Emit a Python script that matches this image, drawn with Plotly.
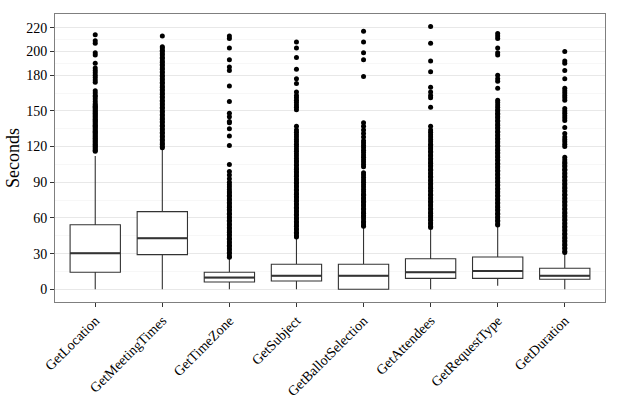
import plotly.graph_objects as go

categories = ["GetLocation", "GetMeetingTimes", "GetTimeZone", "GetSubject",
              "GetBallotSelection", "GetAttendees", "GetRequestType", "GetDuration"]

q1 = [14.3, 29.1, 6.1, 7.0, 0.0, 9.2, 9.2, 8.4]
median = [30.3, 42.9, 9.8, 11.4, 11.4, 14.3, 15.4, 11.4]
q3 = [54.3, 65.3, 14.3, 21.0, 21.0, 25.7, 27.2, 17.7]
lower_whisker = [0.0, 0.0, 0.0, 0.0, 0.0, 0.0, 3.0, 0.0]
upper_whisker = [112.0, 117.7, 25.7, 42.3, 51.8, 49.9, 52.7, 30.8]

out_location = [116, 117, 118, 119, 120, 121, 122, 123, 124, 125, 126, 127, 128, 129, 130,
                131, 132, 133, 134, 135, 136, 137, 138, 139, 140, 141, 142, 143, 144, 145,
                146, 147, 148, 149, 150, 151, 152, 153, 154, 155, 156, 158, 160, 162, 163,
                165, 167, 174, 176, 178, 180, 182, 184, 186, 190, 197, 199, 207, 209, 214]
out_meeting = [119, 120, 122, 123, 125, 126, 128, 129, 131, 132, 134, 135, 137, 138, 140,
               141, 143, 144, 146, 147, 149, 150, 152, 153, 155, 156, 158, 159, 161, 162,
               164, 165, 167, 168, 170, 171, 173, 174, 176, 177, 179, 180, 182, 183, 185,
               186, 188, 189, 191, 192, 194, 195, 197, 198, 200, 201, 203, 204, 213]
out_timezone = [27, 28, 30, 31, 33, 34, 36, 37, 39, 40, 42, 43, 45, 46, 48, 49, 51, 52, 54,
                55, 57, 58, 60, 61, 63, 64, 66, 67, 69, 70, 72, 73, 75, 76, 78, 79, 81, 82,
                84, 86, 88, 90, 93, 96, 99, 105, 121, 129, 135, 140, 141, 145, 148, 158, 171,
                184, 187, 193, 203, 211, 213]
out_subject = [44, 45, 47, 48, 50, 51, 53, 54, 56, 57, 59, 60, 62, 63, 65, 66, 68, 69, 71,
               72, 74, 75, 77, 78, 80, 81, 83, 84, 86, 87, 89, 90, 92, 93, 95, 96, 98, 99,
               101, 102, 104, 105, 107, 108, 110, 112, 114, 116, 118, 120, 122, 124, 126,
               128, 130, 132, 134, 137, 151, 153, 155, 157, 159, 161, 163, 166, 173, 177,
               185, 195, 203, 208]
out_ballot = [53, 54, 56, 57, 59, 61, 62, 64, 65, 67, 68, 70, 71, 73, 74, 76, 77, 79, 80,
              82, 84, 86, 88, 90, 92, 94, 96, 98, 103, 105, 107, 109, 111, 113, 115, 117,
              119, 121, 123, 125, 128, 131, 134, 137, 140, 179, 193, 199, 208, 217]
out_attendees = [52, 53, 55, 56, 58, 59, 61, 62, 64, 65, 67, 68, 70, 71, 73, 74, 76, 77, 79,
                 80, 82, 83, 85, 86, 88, 89, 91, 92, 94, 95, 97, 98, 100, 101, 103, 104,
                 106, 107, 109, 110, 112, 113, 115, 116, 118, 119, 121, 122, 124, 126, 128,
                 130, 132, 134, 137, 153, 161, 163, 166, 170, 183, 192, 207, 221]
out_request = [54, 55, 57, 58, 60, 61, 63, 64, 66, 67, 69, 70, 72, 73, 75, 76, 78, 79, 81,
               82, 84, 85, 87, 88, 90, 91, 93, 94, 96, 97, 99, 100, 102, 103, 105, 106, 108,
               109, 111, 112, 114, 115, 117, 118, 120, 121, 123, 124, 126, 127, 129, 130,
               132, 133, 135, 136, 138, 139, 141, 142, 144, 145, 147, 148, 150, 151, 153,
               155, 157, 159, 169, 175, 177, 180, 197, 199, 203, 211, 213, 215]
out_duration = [31, 32, 34, 35, 37, 38, 40, 41, 43, 44, 46, 47, 49, 50, 52, 53, 55, 56, 58,
                59, 61, 62, 64, 65, 67, 68, 70, 71, 73, 74, 76, 77, 79, 80, 82, 83, 85, 86,
                88, 89, 91, 92, 94, 95, 97, 98, 100, 101, 103, 104, 106, 107, 109, 111, 120,
                122, 124, 126, 128, 131, 136, 142, 144, 146, 148, 150, 152, 159, 161, 163,
                165, 167, 169, 177, 184, 190, 192, 200]

outliers = [out_location, out_meeting, out_timezone, out_subject,
            out_ballot, out_attendees, out_request, out_duration]

y_tickvals = [0, 30, 60, 90, 120, 150, 180, 200, 220]
y_minor = [15, 45, 75, 105, 135, 165, 190, 210]

positions = list(range(len(categories)))

fig = go.Figure()
fig.add_trace(go.Box(
    x=positions, q1=q1, median=median, q3=q3,
    lowerfence=lower_whisker, upperfence=upper_whisker,
    boxpoints=False, width=0.75, whiskerwidth=0,
    fillcolor="white", line=dict(color="#333333", width=1.1),
    showlegend=False, hoverinfo="skip",
))
# thicker median line, drawn as a degenerate box at the median
fig.add_trace(go.Box(
    x=positions, q1=median, median=median, q3=median,
    lowerfence=median, upperfence=median,
    boxpoints=False, width=0.75, whiskerwidth=0,
    fillcolor="rgba(0,0,0,0)", line=dict(color="#333333", width=2),
    showlegend=False, hoverinfo="skip",
))

ox, oy = [], []
for i, vals in enumerate(outliers):
    ox += [positions[i]] * len(vals)
    oy += vals
fig.add_trace(go.Scatter(
    x=ox, y=oy, mode="markers",
    marker=dict(color="black", size=5, line=dict(width=0)),
    showlegend=False, hoverinfo="skip",
))

font_family = "Liberation Serif, Times New Roman, serif"
fig.update_layout(
    width=620, height=420,
    margin=dict(l=55, r=15, t=14, b=118),
    paper_bgcolor="white", plot_bgcolor="white",
    font=dict(family=font_family, color="black", size=14),
    showlegend=False, boxmode="overlay",
)
fig.update_xaxes(
    range=[-0.6, 7.6], tickvals=positions, ticktext=categories,
    tickangle=-45, showgrid=False, zeroline=False,
    ticks="outside", ticklen=4, tickcolor="#333333", tickwidth=1,
    showline=True, linecolor="#7f7f7f", linewidth=1, mirror=True,
    tickfont=dict(family=font_family, size=14, color="black"),
)
fig.update_yaxes(
    range=[-10.7, 231.5], tickvals=y_tickvals,
    showgrid=True, gridcolor="#e8e8e8", gridwidth=1, zeroline=False,
    minor=dict(tickvals=y_minor, showgrid=True, gridcolor="#f7f7f7", gridwidth=0.6, ticks=""),
    ticks="outside", ticklen=4, tickcolor="#333333", tickwidth=1,
    showline=True, linecolor="#7f7f7f", linewidth=1, mirror=True,
    tickfont=dict(family=font_family, size=14, color="black"),
    title=dict(text="Seconds", font=dict(family=font_family, size=18, color="black"), standoff=1),
)

fig.write_html("out.html")
